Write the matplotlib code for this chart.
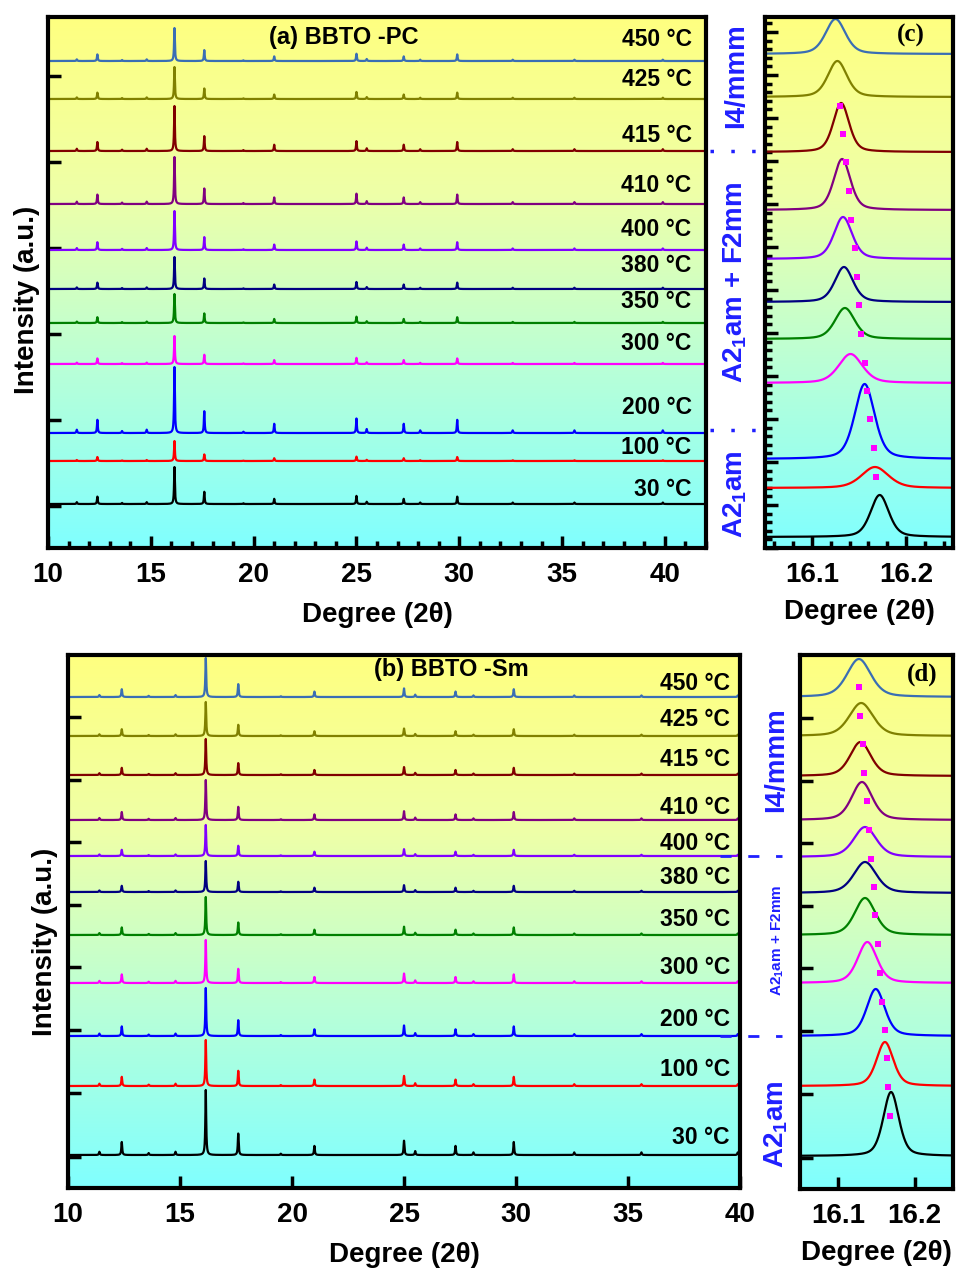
import numpy as np
import matplotlib
matplotlib.use('Agg')
import matplotlib.pyplot as plt
import matplotlib.transforms as mtransforms
from matplotlib.colors import LinearSegmentedColormap
from matplotlib.ticker import MultipleLocator, FixedLocator, NullFormatter
from matplotlib.lines import Line2D

plt.rcParams['font.family'] = ['Liberation Sans', 'DejaVu Sans']
plt.rcParams['font.weight'] = 'bold'
plt.rcParams['axes.labelweight'] = 'bold'
plt.rcParams['mathtext.fontset'] = 'custom'
plt.rcParams['mathtext.rm'] = 'Liberation Sans:bold'
plt.rcParams['mathtext.bf'] = 'Liberation Sans:bold'
plt.rcParams['mathtext.it'] = 'Liberation Sans:bold'

# temperatures, top to bottom
temps = [450, 425, 415, 410, 400, 380, 350, 300, 200, 100, 30]
colors = ['#3a6eb4', '#808000', '#800000', '#800080', '#8000ff', '#000080',
          '#008000', '#ff00ff', '#0000ff', '#ff0000', '#000000']

# reflections of the full patterns (2theta) and their relative intensities
refl_pos = [11.4, 12.4, 13.6, 14.8, 16.15, 17.6, 19.5, 21.0, 25.0, 25.5, 27.3, 28.1, 29.9, 32.6, 35.6, 39.9]
refl_rel = [0.05, 0.2, 0.03, 0.05, 1.0, 0.33, 0.02, 0.14, 0.22, 0.06, 0.14, 0.04, 0.2, 0.04, 0.04, 0.04]

# (a) BBTO-PC: stack offsets and main peak heights (arb. units)
a_off = [487, 449, 397, 344, 298, 259, 225, 184, 115, 87, 44]
a_main = [33, 32, 45, 47, 39, 32, 29, 28, 66, 20, 37]
a_lab_y = [508, 468, 413, 363, 319, 282, 246, 205, 140, 101, 58]

# (b) BBTO-Sm
b_off = [491, 452, 413, 368, 332, 296, 253, 205, 152, 102, 33]
b_main = [39, 34, 36, 40, 31, 31, 38, 43, 48, 46, 65]
b_lab_y = [505, 469, 428, 381, 345, 311, 268, 220, 168, 118, 51]

# (c) zoom of main reflection, PC
c_off = [494, 451, 396, 338, 289, 246, 209, 165, 89, 60, 11]
c_cen = [16.125, 16.127, 16.131, 16.132, 16.133, 16.134, 16.135, 16.141, 16.156, 16.167, 16.172]
c_fwhm = [0.025, 0.024, 0.02, 0.021, 0.023, 0.023, 0.025, 0.03, 0.025, 0.034, 0.023]
c_h = [35, 36, 49, 51, 42, 35, 31, 29, 75, 21, 42]
c_dot_x = [16.1295, 16.1326, 16.1358, 16.1389, 16.141, 16.1453, 16.1474, 16.1505,
           16.1526, 16.1568, 16.1589, 16.1621, 16.1663, 16.1684]
c_dot_y = [442, 414, 386, 357, 328, 300, 271, 243, 214, 185, 157, 129, 100, 71]

# (d) zoom of main reflection, Sm
d_off = [492, 453, 413, 369, 332, 296, 254, 206, 153, 103, 33]
d_cen = [16.127, 16.130, 16.129, 16.131, 16.135, 16.135, 16.135, 16.138, 16.149, 16.161, 16.169]
d_fwhm = [0.037, 0.037, 0.032, 0.032, 0.035, 0.035, 0.032, 0.03, 0.028, 0.026, 0.024]
d_h = [38, 33, 34, 38, 30, 31, 37, 41, 47, 44, 64]
d_dot_x = [16.127, 16.128, 16.132, 16.134, 16.137, 16.140, 16.143, 16.147, 16.148,
           16.152, 16.155, 16.157, 16.161, 16.164, 16.165, 16.168]
d_dot_y = [502, 473, 445, 416, 388, 359, 330, 302, 274, 245, 216, 187, 159, 131, 102, 73]

blue = '#1f1fff'
bg = LinearSegmentedColormap.from_list('bg', ['#80ffff', '#b8ffd8', '#eeffa8', '#ffff80'])


def pattern(x, h, w=0.045):
    y = np.zeros_like(x)
    for p, r in zip(refl_pos, refl_rel):
        y += h * r / (1 + ((x - p) / (w / 2)) ** 2)
    return y


def pv(x, c, fwhm, h, eta=0.4):
    g = np.exp(-4 * np.log(2) * ((x - c) / fwhm) ** 2)
    l = 1 / (1 + 4 * ((x - c) / fwhm) ** 2)
    return h * (eta * l + (1 - eta) * g)


def style(ax):
    ax.imshow(np.linspace(0, 1, 256).reshape(-1, 1)[::-1], cmap=bg, aspect='auto',
              extent=(0, 1, 0, 1), transform=ax.transAxes, zorder=0)
    for s in ax.spines.values():
        s.set_linewidth(3)
    ax.tick_params(which='both', direction='in', width=2.5, top=False, right=False,
                   labelsize=20, pad=10)
    ax.tick_params(which='major', length=9)
    ax.tick_params(which='minor', length=5)
    ax.yaxis.set_major_formatter(NullFormatter())
    ax.yaxis.set_minor_formatter(NullFormatter())


fig = plt.figure(figsize=(9.66, 12.76), dpi=100)
ax_a = fig.add_axes([48 / 966, 1 - 548 / 1276, 658 / 966, 531 / 1276])
ax_c = fig.add_axes([765 / 966, 1 - 548 / 1276, 188 / 966, 531 / 1276])
ax_b = fig.add_axes([68 / 966, 1 - 1188 / 1276, 672 / 966, 533 / 1276])
ax_d = fig.add_axes([800 / 966, 1 - 1189 / 1276, 153 / 966, 534 / 1276])

# full patterns
for ax, xmax, offs, mains, laby, labx in [(ax_a, 42, a_off, a_main, a_lab_y, 41.3),
                                          (ax_b, 40, b_off, b_main, b_lab_y, 39.55)]:
    style(ax)
    x = np.linspace(10, xmax, 20000)
    for t, c, o, h, ly in zip(temps, colors, offs, mains, laby):
        ax.plot(x, o + pattern(x, h), color=c, lw=1.6, zorder=2)
        ax.text(labx, ly, f'{t} °C', ha='right', va='center', fontsize=16.5, zorder=3)
    ax.set_xlim(10, xmax)
    ax.set_ylim(0, 531 if ax is ax_a else 533)
    ax.xaxis.set_major_locator(MultipleLocator(5))
    ax.set_xlabel('Degree (2θ)', fontsize=20, labelpad=10)

ax_a.xaxis.set_minor_locator(MultipleLocator(1))
ax_a.yaxis.set_major_locator(FixedLocator([42, 128, 214, 300, 386, 472]))
ax_b.yaxis.set_major_locator(FixedLocator([31, 95, 158, 221, 283, 346, 408, 471]))
ax_a.text(0.45, 0.962, '(a) BBTO -PC', transform=ax_a.transAxes, ha='center', va='center', fontsize=17)
ax_b.text(0.571, 0.972, '(b) BBTO -Sm', transform=ax_b.transAxes, ha='center', va='center', fontsize=17)

# zoomed main reflection
for ax, offs, cens, fw, hs, dx, dy, top in [(ax_c, c_off, c_cen, c_fwhm, c_h, c_dot_x, c_dot_y, 531),
                                           (ax_d, d_off, d_cen, d_fwhm, d_h, d_dot_x, d_dot_y, 534)]:
    style(ax)
    x = np.linspace(16.05, 16.25, 800)
    for c, o, m, w, h in zip(colors, offs, cens, fw, hs):
        ax.plot(x, o + pv(x, m, w, h), color=c, lw=1.6, zorder=2)
    ax.plot(dx, dy, 's', color='#ff00ff', ms=4.5, mew=0, zorder=3)
    ax.set_xlim(16.05, 16.25)
    ax.set_ylim(0, top)
    ax.xaxis.set_major_locator(MultipleLocator(0.1))
    ax.set_xlabel('Degree (2θ)', fontsize=20, labelpad=8)

ax_c.xaxis.set_minor_locator(MultipleLocator(0.02))
ax_c.yaxis.set_major_locator(MultipleLocator(43))
ax_c.yaxis.set_minor_locator(MultipleLocator(8.6))
ax_d.yaxis.set_major_locator(FixedLocator([31, 95, 158, 221, 283, 346, 408, 471]))
ax_c.text(0.777, 0.966, '(c)', transform=ax_c.transAxes, ha='center', va='center',
          fontsize=18, family='Liberation Serif')
ax_d.text(0.797, 0.963, '(d)', transform=ax_d.transAxes, ha='center', va='center',
          fontsize=18, family='Liberation Serif')

fig.text(27 / 966, 1 - 300 / 1276, 'Intensity (a.u.)', rotation=90, ha='center', va='center', fontsize=20)
fig.text(45 / 966, 1 - 942 / 1276, 'Intensity (a.u.)', rotation=90, ha='center', va='center', fontsize=20)

# phase labels
kw = dict(rotation=90, ha='center', va='center', color=blue)
fig.text(736 / 966, 1 - 76 / 1276, 'I4/mmm', fontsize=20, **kw)
fig.text(735 / 966, 1 - 283 / 1276, r'A2$_1$am + F2mm', fontsize=20, **kw)
fig.text(735 / 966, 1 - 494 / 1276, r'A2$_1$am', fontsize=20, **kw)
fig.text(776 / 966, 1 - 760 / 1276, 'I4/mmm', fontsize=20, **kw)
fig.text(778 / 966, 1 - 940 / 1276, r'A2$_1$am + F2mm', fontsize=11, **kw)
fig.text(776 / 966, 1 - 1124 / 1276, r'A2$_1$am', fontsize=20, **kw)

# phase boundaries
ta = mtransforms.blended_transform_factory(fig.transFigure, ax_a.transData)
tb = mtransforms.blended_transform_factory(fig.transFigure, ax_b.transData)
for y in [a_off[2], a_off[8] + 3]:
    fig.add_artist(Line2D([710 / 966, 756 / 966], [y, y], transform=ta, color=blue,
                          lw=2.5, ls=(0, (1, 5))))
for y in [b_off[4], b_off[8]]:
    fig.add_artist(Line2D([720 / 966, 782 / 966], [y, y], transform=tb, color=blue,
                          lw=2, ls=(0, (4, 6))))

fig.savefig('out.png', dpi=100)
